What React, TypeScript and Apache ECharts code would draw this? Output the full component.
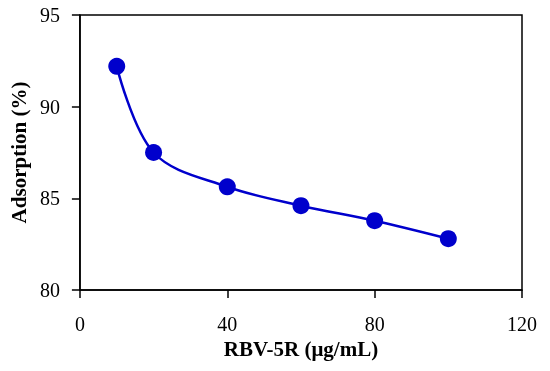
import React, { useEffect, useRef } from "react";
import * as echarts from "echarts";

const concentrations = [10, 20, 40, 60, 80, 100];
const adsorption = [92.2, 87.5, 85.63, 84.6, 83.78, 82.8];
const xTitle = "RBV-5R (μg/mL)";
const yTitle = "Adsorption (%)";

export default function App() {
  const ref = useRef<HTMLDivElement>(null);
  useEffect(() => {
    const chart = echarts.init(ref.current!, null, { renderer: "svg" });
    const font = "'Liberation Serif', 'Times New Roman', serif";
    chart.setOption({
      animation: false,
      grid: {
        left: 76,
        right: 28,
        top: 15,
        bottom: 81,
        show: true,
        borderColor: "#000",
        borderWidth: 1.5,
        backgroundColor: "#fff",
      },
      xAxis: {
        type: "value",
        min: 0,
        max: 120,
        interval: 40,
        name: xTitle,
        nameLocation: "middle",
        nameGap: 47,
        nameTextStyle: { fontFamily: font, fontWeight: "bold", fontSize: 21, color: "#000" },
        axisLine: { show: true, lineStyle: { color: "#000", width: 1.5 } },
        axisTick: { show: true, inside: false, length: 8, lineStyle: { color: "#000", width: 1.5 } },
        axisLabel: { fontFamily: font, fontSize: 20, color: "#000", margin: 24 },
        splitLine: { show: false },
      },
      yAxis: {
        type: "value",
        min: 80,
        max: 95,
        interval: 5,
        name: yTitle,
        nameLocation: "middle",
        nameGap: 48,
        nameTextStyle: { fontFamily: font, fontWeight: "bold", fontSize: 21, color: "#000" },
        axisLine: { show: true, lineStyle: { color: "#000", width: 1.5 } },
        axisTick: { show: true, inside: false, length: 8, lineStyle: { color: "#000", width: 1.5 } },
        axisLabel: { fontFamily: font, fontSize: 20, color: "#000", margin: 20 },
        splitLine: { show: false },
      },
      series: [
        {
          type: "line",
          data: concentrations.map((x, i) => [x, adsorption[i]]),
          smooth: 0.35,
          symbol: "circle",
          symbolSize: 17,
          itemStyle: { color: "#0000CC" },
          lineStyle: { color: "#0000CC", width: 2.5 },
        },
      ],
    });
    return () => chart.dispose();
  }, []);
  return (
    <div
      ref={ref}
      style={{ position: "fixed", left: 0, top: 0, width: 550, height: 371 }}
    />
  );
}
